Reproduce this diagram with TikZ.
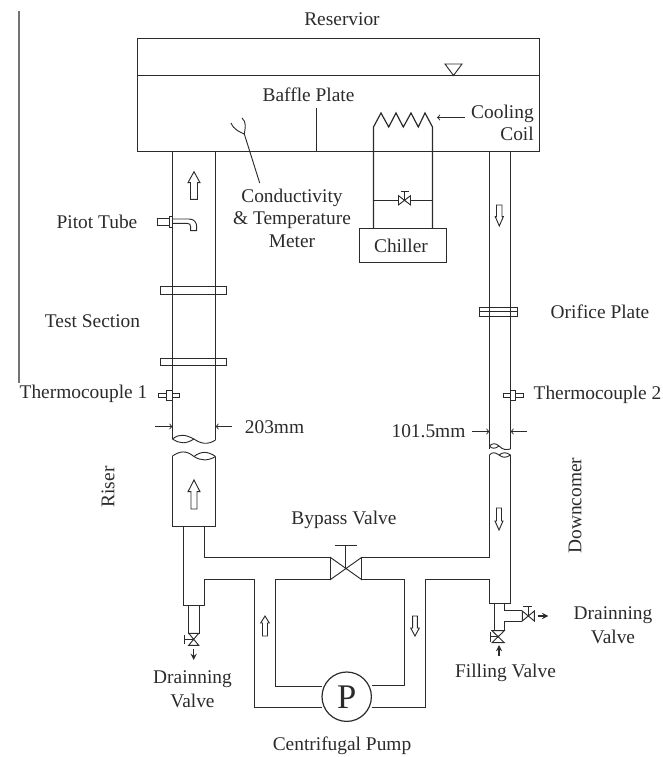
\documentclass[tikz,border=0pt]{standalone}
\usepackage{fontspec}
\setmainfont{Liberation Serif}
\usepackage{xcolor}
\usepackage{tikz}
\definecolor{ink}{gray}{0.17}
\tikzset{
    pipe/.style={ink, line width=0.9pt, line join=miter},
    thin pipe/.style={ink, line width=0.7pt},
    lbl/.style={ink, inner sep=0pt, font=\fontsize{14.6}{17}\selectfont, align=center},
    dim arrow/.style={thin pipe, ->, >=to},
    flow arrow/.style={ink, line width=1.1pt, -stealth}
}

\begin{document}
\begin{tikzpicture}[x=0.02646cm, y=-0.02646cm]
    \useasboundingbox (0,0) rectangle (662,757);

    % Side rule
    \draw[black!55, line width=1.6pt] (19,11) -- (19,383);

    % Reservoir
    \coordinate (ResTL) at (137.5,38.5);
    \coordinate (ResBR) at (539.5,151.5);
    \draw[pipe] (ResTL) rectangle (ResBR);
    \draw[thin pipe] (137.5,75.5) -- (539.5,75.5);
    \draw[thin pipe] (445,64) -- (462,64) -- (453.5,75.5) -- cycle;
    \draw[thin pipe] (316.5,108) -- (316.5,151);

    % Probe in the reservoir
    \draw[thin pipe] (259.7,183) -- (244.3,134);
    \draw[thin pipe] (231,123) .. controls (234,130) and (240,132) .. (244.3,134);
    \draw[thin pipe] (242,118) .. controls (247,122) and (245,129) .. (244.3,134);

    % Cooling coil and chiller
    \draw[pipe] (373.5,228) -- (373.5,127) -- (381,113) -- (388.7,127) -- (396,113) -- (403.3,127) -- (411,113) -- (418.3,127) -- (425,113) -- (432.5,127) -- (432.5,228);
    \draw[dim arrow] (465,117.5) -- (437,117.5);
    \draw[pipe] (359.5,228.5) rectangle (446.5,262.5);
    \draw[pipe] (373.5,200.5) -- (398.5,200.5);
    \draw[thin pipe] (410.5,200.5) -- (432.5,200.5);
    % Chiller valve
    \draw[thin pipe] (398.5,195.7) -- (410.5,204.9) -- (410.5,195.7) -- (398.5,204.9) -- cycle;
    \draw[thin pipe] (404.5,200.3) -- (404.5,191.7);
    \draw[thin pipe] (401,191.7) -- (408.5,191.7);

    % Riser, upper part
    \draw[pipe] (172.5,151) -- (172.5,439);
    \draw[pipe] (215.5,151) -- (215.5,440);
    \draw[thin pipe] (172.5,439) .. controls (180,433) and (186,435) .. (194,439) .. controls (201,444) and (208,445) .. (215.5,440);
    \draw[thin pipe] (172.5,439) .. controls (180,444) and (186,444) .. (194,439);
    % Flanges
    \draw[pipe] (160.5,286.5) rectangle (226.5,294.5);
    \draw[pipe] (160.5,358.5) rectangle (226.5,365.5);
    % Flow arrow
    \draw[thin pipe] (194,171.7) -- (200,182.7) -- (197.5,182.7) -- (197.5,199.3) -- (190.5,199.3) -- (190.5,182.7) -- (188,182.7) -- cycle;

    % Pitot tube
    \draw[thin pipe] (169.5,218) -- (157.5,218) -- (157.5,225) -- (169.5,225);
    \draw[thin pipe] (169.5,216.7) rectangle (172.5,227.3);
    \draw[thin pipe] (172.5,219) -- (189,219) .. controls (194,219) and (196.7,222) .. (196.7,227) -- (196.7,230.7) -- (190.7,230.7) -- (190.7,227) .. controls (190.7,224.5) and (189.5,223.3) .. (187,223.3) -- (172.5,223.3);

    % Thermocouple 1
    \draw[thin pipe] (166.7,393.3) -- (158.3,393.3) -- (158.3,397.3) -- (166.7,397.3);
    \draw[thin pipe] (166.7,390) rectangle (172.5,400);
    \draw[thin pipe] (172.5,393.3) -- (179,393.3) -- (179,397.3) -- (172.5,397.3);

    % Riser diameter
    \draw[dim arrow] (155,426.5) -- (172.5,426.5);
    \draw[dim arrow] (231.7,426.5) -- (215.5,426.5);

    % Riser, lower part
    \draw[pipe] (172.5,456) -- (172.5,526.5) -- (215.5,526.5) -- (215.5,456.5);
    \draw[thin pipe] (172.5,456) .. controls (180,451) and (186,450) .. (194,456.5) .. controls (201,461) and (208,461) .. (215.5,456.5);
    \draw[thin pipe] (194,456.5) .. controls (201,451) and (208,451) .. (215.5,456.5);
    \draw[thin pipe] (194,480) -- (200,491.7) -- (197,491.7) -- (197,509) -- (191,509) -- (191,491.7) -- (188,491.7) -- cycle;

    % Riser foot and drain
    \draw[pipe] (183.5,526) -- (183.5,605.5) -- (204.5,605.5) -- (204.5,579.5) -- (254.5,579.5) -- (254.5,707.5) -- (322,707.5);
    \draw[pipe] (204.5,526) -- (204.5,557.5) -- (330,557.5);
    \draw[pipe] (275.5,686.5) -- (275.5,579.5) -- (330,579.5);
    \draw[pipe] (275.5,686.5) -- (322,686.5);
    \draw[pipe] (188.5,605.5) -- (188.5,633.5) -- (199.5,633.5) -- (199.5,605.5);
    % Riser drain valve
    \draw[thin pipe] (188.7,633.3) -- (198.7,645.3) -- (188.7,645.3) -- (198.7,633.3) -- cycle;
    \draw[thin pipe] (193.7,639.3) -- (184.3,639.3);
    \draw[thin pipe] (184.3,634.7) -- (184.3,644);
    \draw[flow arrow] (193.7,649) -- (193.7,660);
    % Return arrow
    \draw[thin pipe] (265,616) -- (269.3,623) -- (267.5,623) -- (267.5,636) -- (262.5,636) -- (262.5,623) -- (260.7,623) -- cycle;

    % Bypass valve
    \draw[thin pipe] (330.5,557.5) -- (330.5,579.5) -- (361.5,557.5) -- (361.5,579.5) -- cycle;
    \draw[pipe] (345.8,568.5) -- (345.8,545.5);
    \draw[thin pipe] (335,545.5) -- (356.7,545.5);

    % Right side of the loop
    \draw[pipe] (361.5,557.5) -- (489.5,557.5) -- (489.5,455);
    \draw[pipe] (361.5,579.5) -- (404.5,579.5) -- (404.5,685.5) -- (371.5,685.5);
    \draw[pipe] (371.5,707.5) -- (425.5,707.5) -- (425.5,579.5) -- (489.5,579.5) -- (489.5,603.5) -- (510.5,603.5) -- (510.5,455);
    % Feed arrow
    \draw[thin pipe] (415,636) -- (419.3,628) -- (417.3,628) -- (417.3,616) -- (412.7,616) -- (412.7,628) -- (410.7,628) -- cycle;

    % Pump
    \node[draw=ink, line width=0.9pt, circle, minimum size=49.4*0.02646cm, inner sep=0pt, font=\fontsize{26}{30}\selectfont, text=ink] (Pump) at (346.7,696.7) {P};

    % Downcomer, upper part
    \draw[pipe] (489.5,151) -- (489.5,449);
    \draw[pipe] (510.5,151) -- (510.5,449);
    \draw[thin pipe] (489.5,446) .. controls (492,449) and (495,449) .. (499,446) .. controls (503,450) and (506,450) .. (510.5,449);
    \draw[thin pipe] (489.5,446) .. controls (492,443) and (496,443) .. (499,446);
    \draw[thin pipe] (479.5,307.5) rectangle (517.5,316.5);
    \draw[thin pipe] (479.5,311.5) -- (517.5,311.5);
    \draw[thin pipe] (499.3,226) -- (503.3,216.7) -- (502,216.7) -- (502,205) -- (496.5,205) -- (496.5,216.7) -- (495.3,216.7) -- cycle;

    % Thermocouple 2
    \draw[thin pipe] (510,393.3) -- (503.3,393.3) -- (503.3,397.3) -- (510,397.3);
    \draw[thin pipe] (510,390) rectangle (515,400);
    \draw[thin pipe] (515,393.3) -- (523.3,393.3) -- (523.3,397.3) -- (515,397.3);

    % Downcomer diameter
    \draw[dim arrow] (471.7,431.5) -- (489.5,431.5);
    \draw[dim arrow] (526.7,431.5) -- (510.5,431.5);

    % Downcomer, lower part
    \draw[thin pipe] (489.5,455) .. controls (492,452) and (495,452) .. (499,455) .. controls (503,458) and (506,458) .. (510.5,455);
    \draw[thin pipe] (499,455) .. controls (503,452) and (506,452) .. (510.5,455);
    \draw[thin pipe] (499,530) -- (503,521) -- (501.5,521) -- (501.5,508) -- (496.5,508) -- (496.5,521) -- (495,521) -- cycle;

    % Tee with filling and drain valves
    \draw[pipe] (494.5,603.5) -- (494.5,630.5) -- (504.5,630.5) -- (504.5,621.5) -- (522.3,621.5);
    \draw[pipe] (504.5,603.5) -- (504.5,610.5) -- (522.3,610.5);
    % Side valve
    \draw[thin pipe] (522.3,611) -- (534.3,621) -- (534.3,611) -- (522.3,621) -- cycle;
    \draw[thin pipe] (528,616) -- (528,606.7);
    \draw[thin pipe] (523,606.7) -- (532,606.7);
    \draw[flow arrow] (537.7,616) -- (548.3,616);
    % Filling valve
    \draw[thin pipe] (492,630.7) -- (504.3,642.7) -- (492,642.7) -- (504.3,630.7) -- cycle;
    \draw[thin pipe] (498,636.7) -- (490,636.7);
    \draw[thin pipe] (490,632) -- (490,641.5);
    \draw[flow arrow] (499,656) -- (499,645);

    % Labels
    \node[lbl] (Reservior) at (342,19) {Reservior};
    \node[lbl] (Baffle) at (308.5,95) {Baffle Plate};
    \node[lbl, align=right, anchor=east] (Cooling) at (534,123) {Cooling\\Coil};
    \node[lbl] (Meter) at (292,218) {Conductivity\\\& Temperature\\Meter};
    \node[lbl] (Chiller) at (401,246) {Chiller};
    \node[lbl] (Pitot) at (97,222) {Pitot Tube};
    \node[lbl] (Test) at (92.5,321) {Test Section};
    \node[lbl] (TC1) at (83.5,394) {Thermocouple 1};
    \node[lbl] (Size1) at (274.5,427) {203mm};
    \node[lbl, rotate=90] (Riser) at (108,487) {Riser};
    \node[lbl] (Orifice) at (600,312) {Orifice Plate};
    \node[lbl] (TC2) at (597.5,395) {Thermocouple 2};
    \node[lbl] (Size2) at (428.5,431) {101.5mm};
    \node[lbl, rotate=90] (Downcomer) at (575,505.5) {Downcomer};
    \node[lbl] (Bypass) at (344,520) {Bypass Valve};
    \node[lbl] (DrainL) at (192.5,689) {Drainning\\[1pt]Valve};
    \node[lbl] (DrainR) at (613,625.5) {Drainning\\[1pt]Valve};
    \node[lbl] (Filling) at (505.5,673) {Filling Valve};
    \node[lbl] (Centrifugal) at (342,746) {Centrifugal Pump};
\end{tikzpicture}
\end{document}
